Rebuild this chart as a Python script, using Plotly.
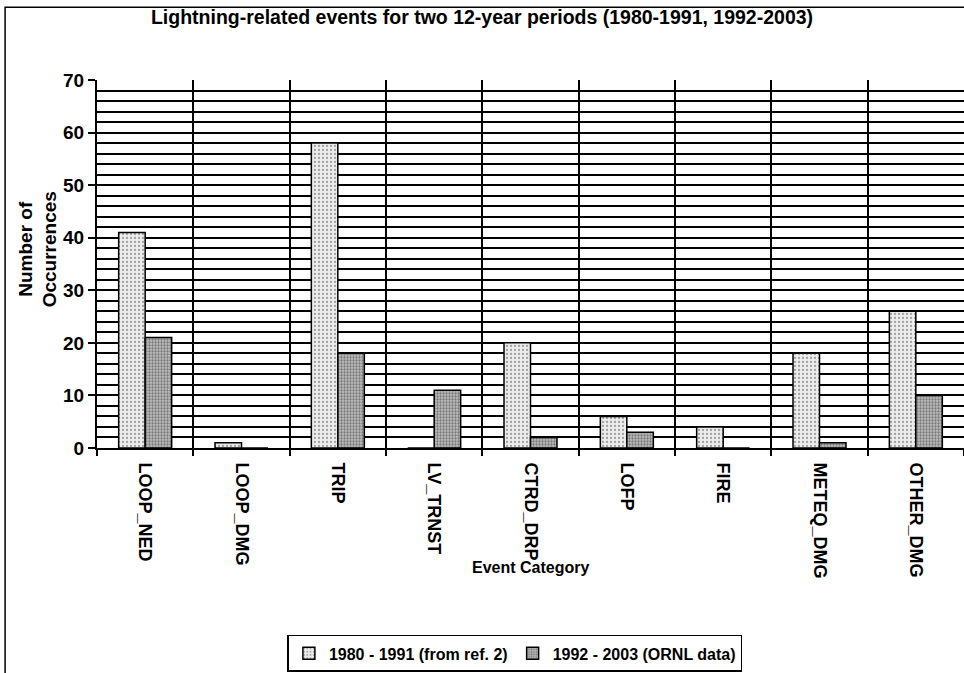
import plotly.graph_objects as go

categories = ["LOOP_NED", "LOOP_DMG", "TRIP", "LV_TRNST", "CTRD_DRP", "LOFP", "FIRE", "METEQ_DMG", "OTHER_DMG"]
period_1980_1991 = [41, 1, 58, 0, 20, 6, 4, 18, 26]
period_1992_2003 = [21, 0, 18, 11, 2, 3, 0, 1, 10]
series_names = ["1980 - 1991 (from ref. 2)", "1992 - 2003 (ORNL data)"]
y_ticks = [0, 10, 20, 30, 40, 50, 60, 70]

FONT = "Arial, Liberation Sans, sans-serif"

fig = go.Figure()
fig.add_trace(go.Bar(
    x=categories, y=period_1980_1991, name=series_names[0],
    marker=dict(color="#e4e4e4", line=dict(color="black", width=1.5),
                pattern=dict(shape=".", fgcolor="#555555", bgcolor="#ececec", size=4, solidity=0.25)),
))
fig.add_trace(go.Bar(
    x=categories, y=period_1992_2003, name=series_names[1],
    marker=dict(color="#9a9a9a", line=dict(color="black", width=1.5),
                pattern=dict(shape=".", fgcolor="#333333", bgcolor="#bdbdbd", size=3, solidity=0.45)),
))

fig.update_layout(
    width=964, height=673,
    margin=dict(l=97, r=0, t=80, b=225, autoexpand=False),
    paper_bgcolor="white", plot_bgcolor="white",
    barmode="group", bargap=0.45, bargroupgap=0,
    font=dict(family=FONT, color="black"),
    title=dict(text="<b>Lightning-related events for two 12-year periods (1980-1991, 1992-2003)</b>",
               x=0.5, xref="container", xanchor="center", y=0.9747, yanchor="middle",
               font=dict(size=19.5, family=FONT, color="black")),
    showlegend=True,
    legend=dict(orientation="h", x=0.482, xanchor="center", y=-0.508, yanchor="top",
                bordercolor="black", borderwidth=1.5, bgcolor="white",
                font=dict(size=16, family=FONT, color="black", weight="bold"),
                itemwidth=30, tracegroupgap=0),
    xaxis=dict(
        type="category", tickson="boundaries", automargin=False,
        showgrid=True, gridcolor="black", gridwidth=1.5,
        showline=True, linecolor="black", linewidth=2,
        ticks="outside", ticklen=6, tickcolor="black", tickwidth=2,
        ticklabelstandoff=9,
        tickangle=90, tickfont=dict(size=18, family=FONT, weight="bold"),
    ),
    yaxis=dict(
        range=[0, 70], tickvals=y_ticks, automargin=False,
        showgrid=True, gridcolor="black", gridwidth=1.5,
        minor=dict(dtick=2, showgrid=True, gridcolor="black", gridwidth=1.5),
        showline=True, linecolor="black", linewidth=2,
        ticks="outside", ticklen=7, tickcolor="black", tickwidth=2,
        tickfont=dict(size=19, family=FONT, weight="bold"),
        zeroline=False,
    ),
    annotations=[
        dict(text="<b>Number of<br>Occurrences</b>", textangle=-90,
             xref="paper", yref="paper", x=-0.068, y=0.54, xanchor="center", yanchor="middle",
             showarrow=False, font=dict(size=19, family=FONT, color="black")),
        dict(text="<b>Event Category</b>",
             xref="paper", yref="paper", x=0.5, y=-0.325, xanchor="center", yanchor="middle",
             showarrow=False, font=dict(size=16, family=FONT, color="black")),
    ],
    shapes=[dict(type="rect", xref="paper", yref="paper",
                 x0=-0.106, x1=1.1, y0=-0.7, y1=1.198,
                 line=dict(color="black", width=1.5), layer="below")],
)

fig.write_html("out.html", config={"displayModeBar": False},
               post_script="document.body.style.margin='0';document.body.style.overflow='hidden';")
